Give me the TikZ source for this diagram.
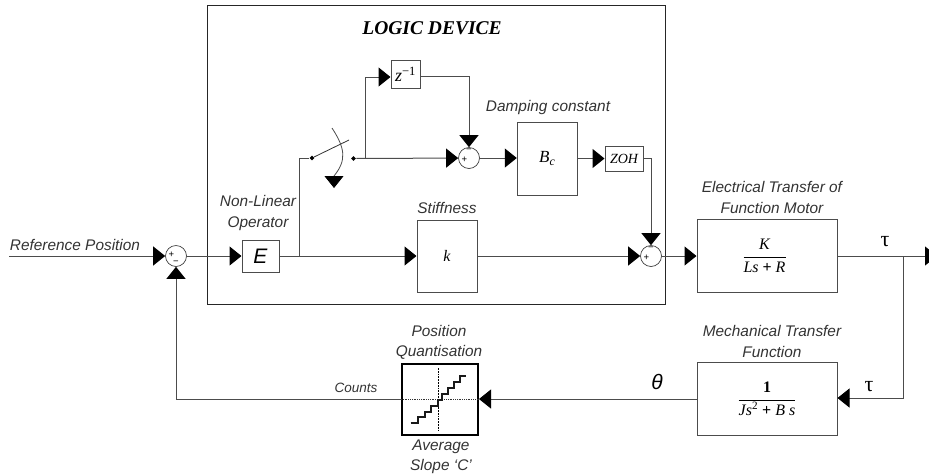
\documentclass[tikz,border=0pt]{standalone}
\usepackage{fontspec}
\setmainfont{Liberation Sans}
\newfontfamily\timesfont{Liberation Serif}
\usetikzlibrary{arrows.meta,positioning,shapes.geometric}

\begin{document}
\begin{tikzpicture}[x = 1pt, y = -1pt, >={Triangle[length=12pt, width=19pt, black]}, line width = 1pt]
	\tikzstyle{block} = [rectangle, draw = black!70, inner sep = 0pt]
	\tikzstyle{junction} = [circle, draw = black!75, line width = 0.7pt, minimum size = 21pt, inner sep = 0pt]
	\tikzstyle{sign} = [inner sep = 0pt, font = \fontsize{9.5}{9.5}\selectfont]
	\tikzstyle{contact} = [diamond, fill = black, minimum size = 5pt, inner sep = 0pt]
	\tikzstyle{caption} = [inner sep = 0pt, align = center, text = black!80, font = \fontsize{15.4}{20.5}\selectfont\itshape]
	\tikzstyle{formula} = [inner sep = 0pt, font = \fontsize{16}{18}\selectfont\timesfont]
	\tikzstyle{link} = [draw = black!70]
	\useasboundingbox (0,0) rectangle (929,475);
	\node [rectangle, draw = black!85, inner sep = 0pt, minimum width = 458pt, minimum height = 299pt] (logic) at (436,154.5) {};
	\node [inner sep = 0pt, font = \fontsize{19.5}{20}\selectfont\timesfont\bfseries\itshape] (title) at (432,28) {LOGIC DEVICE};

	\node [junction] (sum1) at (176,256) {};
	\node [block, minimum width = 37pt, minimum height = 32pt, font = \fontsize{21}{21}\selectfont\itshape] (E) [right of = sum1, node distance = 84.5pt] {E};
	\node [block, minimum width = 60pt, minimum height = 72pt, formula, inner sep = 0pt] (k) [right of = E, node distance = 186.5pt] {\itshape k};
	\node [junction] (sum2) [right of = k, node distance = 204pt] {};
	\node [block, minimum width = 140pt, minimum height = 73pt, formula, inner sep = 0pt] (motor) at (767,256) {\kern-5pt$\displaystyle\frac{\mbox{\itshape K}}{\mbox{\itshape Ls {\upshape\bfseries +} R}}$};
	\node [block, minimum width = 140pt, minimum height = 73pt, formula, inner sep = 0pt] (mech) [below of = motor, node distance = 143pt] {$\displaystyle\frac{\mbox{\bfseries 1}}{\mbox{\itshape Js\textsuperscript{\upshape 2} {\upshape\bfseries +} B s}}$};
	\node [block, draw = black, line width = 2pt, minimum width = 76pt, minimum height = 71pt] (quant) at (440,399) {};

	\node [junction] (sum3) at (469,158) {};
	\node [block, minimum width = 29pt, minimum height = 28pt, formula, font = \fontsize{18}{18}\selectfont\timesfont, inner sep = 0pt] (delay) at (405.5,74) {\itshape z\textsuperscript{\upshape −1}};
	\node [block, minimum width = 60pt, minimum height = 73pt, formula, font = \fontsize{17}{18}\selectfont\timesfont, inner sep = 0pt] (damp) at (547.3,158.5) {\itshape B\textsubscript{c}};
	\node [block, minimum width = 38pt, minimum height = 25pt, formula, font = \fontsize{14}{14}\selectfont\timesfont, inner sep = 0pt] (zoh) at (624,158.5) {\itshape ZOH};
	\node [contact] (swin) at (312,158) {};
	\node [contact] (swout) at (353.5,158.5) {};

	\coordinate (ref) at (9,256);
	\coordinate (tap) at (299,256);
	\coordinate (swup) at (299,158);
	\coordinate (swarm) at (349,140);
	\coordinate (fork) at (365,158.5);
	\coordinate (forkup) at (365,77);
	\coordinate (zcorner) at (469,76);
	\coordinate (zohcorner) at (651,158.5);
	\coordinate (out) at (937,256);
	\coordinate (drop) at (903,256);
	\coordinate (dropend) at (903,398);
	\coordinate (fbcorner) at (176,399);

	\draw [->, link] (ref) -- (sum1);
	\draw [->, link] (sum1) -- (E);
	\draw [->, link] (E) -- (k);
	\draw [->, link] (k) -- (sum2);
	\draw [->, link] (sum2) -- (motor);
	\draw [->, link] (motor) -- (out);
	\draw [->, link] (drop) -- (dropend) -- (mech.east |- dropend);
	\draw [->, link] (mech.west |- quant) -- (quant);
	\draw [->, link] (quant) -- (fbcorner) -- (sum1);
	\draw [link] (tap) -- (swup) -- (swin);
	\draw [link, black!80, line width = 0.8pt] (swin) -- (swarm);
	\draw [->, link] (swout) -- (sum3);
	\draw [->, link] (fork) -- (forkup) -- (delay.west |- forkup);
	\draw [->, link] (delay.east |- zcorner) -- (zcorner) -- (sum3);
	\draw [->, link] (sum3) -- (damp.west |- sum3);
	\draw [->, link] (damp.east |- zoh) -- (zoh);
	\draw [->, link] (zoh) -- (zohcorner) -- (sum2);
	\draw [->, link, line width = 0.8pt] (332,128) .. controls (345,148) and (347,160) .. (334,176) -- (334,188);

	\node [sign] (plus1) at (171.5,255) {+};
	\node [sign] (minus1) at (176,263) {−};
	\node [sign] (plus3) at (464.5,159.5) {+};
	\node [sign] (minus3) at (469,151) {−};
	\node [sign] (plus2) at (646.5,257.5) {+};
	\node [sign] (minus2) at (651,249) {−};

	% transfer characteristic
	\draw [densely dotted, black!80, line width = 0.8pt] (quant.west) -- (quant.east);
	\draw [densely dotted, black, line width = 1.8pt] (438.5,368) -- (438.5,430);
	\draw [black!90, line width = 2pt] (410.7,423.3) -- (418,423.3) -- (418,417.3) -- (424.7,417.3) -- (424.7,411.7) -- (431.3,411.7) -- (431.3,406) -- (438,406) -- (438,399.5) -- (442,399.5) -- (442,393.5) -- (448,393.5) -- (448,388) -- (454,388) -- (454,382) -- (460,382) -- (460,376) -- (466,376);

	\node [caption] (reflabel) at (75,245) {Reference Position};
	\node [caption] (oplabel) at (258,213) {Non-Linear\\Operator};
	\node [caption] (stifflabel) at (447,208) {Stiffness};
	\node [caption] (damplabel) at (548,108) {Damping constant};
	\node [caption] (motorlabel) at (772,197.5) {Electrical Transfer of\\Function Motor};
	\node [caption] (mechlabel) at (772,341.5) {Mechanical Transfer\\Function};
	\node [caption] (quantlabel) at (439,342.5) {Position\\Quantisation};
	\node [caption] (slopelabel) at (441,457) {Average\\Slope `C'};
	\node [caption] (countlabel) [font = \fontsize{13.5}{14}\selectfont\itshape] at (356,388) {Counts};
	\node [formula, font = \fontsize{22}{22}\selectfont\timesfont] (taua) at (885,242) {τ};
	\node [formula, font = \fontsize{22}{22}\selectfont\timesfont] (taub) at (869,387) {τ};
	\node [formula, font = \fontsize{21}{21}\selectfont\itshape] (theta) at (657,382) {θ};
\end{tikzpicture}
\end{document}
